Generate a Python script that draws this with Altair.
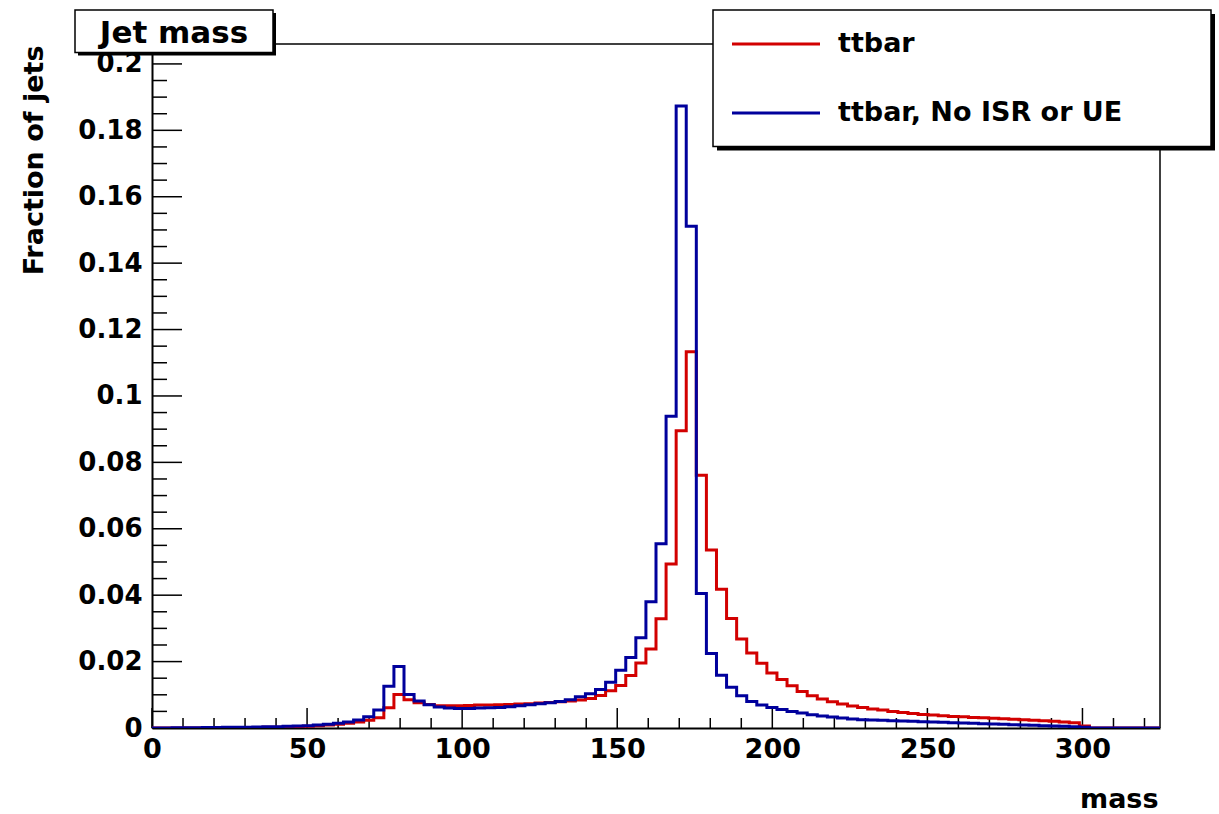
import altair as alt
import pandas as pd
import numpy as np

# ---- data (100 bins of 3.25 from 0 to 325) ----
bin_width = 3.25
x_range = [0, 325]
y_range = [0, 0.206]

ttbar = [
    0, 0, 0, 0, 0, 0.00005, 0.0001, 0.0001, 0.0001, 0.0001,
    0.00015, 0.0002, 0.00025, 0.0003, 0.0004, 0.0005, 0.0007, 0.0009, 0.0011, 0.0014,
    0.0018, 0.0023, 0.0031, 0.0061, 0.0101, 0.0085, 0.0076, 0.0071, 0.0067, 0.0067,
    0.0067, 0.0068, 0.0069, 0.0069, 0.0070, 0.0071, 0.0072, 0.0073, 0.0075, 0.0077,
    0.0079, 0.0081, 0.0084, 0.0089, 0.0098, 0.0112, 0.0128, 0.0158, 0.0196, 0.0238,
    0.0329, 0.0494, 0.0895, 0.1133, 0.0761, 0.0536, 0.0418, 0.0330, 0.0268, 0.0226,
    0.0195, 0.0166, 0.0146, 0.0127, 0.0110, 0.0097, 0.0087, 0.0079, 0.0072, 0.0066,
    0.0062, 0.0057, 0.0054, 0.0050, 0.0047, 0.0044, 0.0041, 0.0039, 0.0037, 0.0035,
    0.0034, 0.0032, 0.0031, 0.0029, 0.0028, 0.0026, 0.0025, 0.0023, 0.0022, 0.0020,
    0.0018, 0.0016, 0.0006, 0, 0, 0, 0, 0, 0, 0,
]

ttbar_no_isr = [
    0, 0, 0.00005, 0.0001, 0.0001, 0.00012, 0.00015, 0.0002, 0.0002, 0.00025,
    0.0003, 0.00035, 0.0004, 0.0005, 0.0006, 0.0007, 0.0009, 0.0011, 0.0014, 0.0018,
    0.0024, 0.0034, 0.0054, 0.0126, 0.0185, 0.0101, 0.0081, 0.0070, 0.0063, 0.0060,
    0.0059, 0.0059, 0.0060, 0.0061, 0.0062, 0.0064, 0.0067, 0.0070, 0.0073, 0.0076,
    0.0080, 0.0085, 0.0094, 0.0103, 0.0116, 0.0138, 0.0174, 0.0212, 0.0272, 0.0380,
    0.0555, 0.0939, 0.1873, 0.1511, 0.0405, 0.0224, 0.0159, 0.0123, 0.0097, 0.0080,
    0.0069, 0.0062, 0.0056, 0.0050, 0.0045, 0.0040, 0.0036, 0.0033, 0.0030, 0.0027,
    0.0025, 0.0024, 0.0023, 0.0022, 0.0021, 0.0020, 0.0019, 0.0018, 0.0017, 0.0016,
    0.0015, 0.0014, 0.0013, 0.0012, 0.0011, 0.0010, 0.0009, 0.0008, 0.0007, 0.0006,
    0.0005, 0.0004, 0.0002, 0, 0, 0, 0, 0, 0, 0,
]

series_names = ["ttbar", "ttbar, No ISR or UE"]
series_colors = ["#d20000", "#00009c"]

x_major = [0, 50, 100, 150, 200, 250, 300]
x_minor = [10, 20, 30, 40, 60, 70, 80, 90, 110, 120, 130, 140, 160, 170, 180, 190,
           210, 220, 230, 240, 260, 270, 280, 290, 310, 320]
y_major = [0, 0.02, 0.04, 0.06, 0.08, 0.1, 0.12, 0.14, 0.16, 0.18, 0.2]
y_minor = [0.005, 0.01, 0.015, 0.025, 0.03, 0.035, 0.045, 0.05, 0.055, 0.065, 0.07, 0.075,
           0.085, 0.09, 0.095, 0.105, 0.11, 0.115, 0.125, 0.13, 0.135, 0.145, 0.15, 0.155,
           0.165, 0.17, 0.175, 0.185, 0.19, 0.195, 0.205]

# ---- build step table ----
rows = []
for name, vals in zip(series_names, [ttbar, ttbar_no_isr]):
    edges = np.arange(len(vals) + 1) * bin_width
    ext = list(vals) + [vals[-1]]
    for e, v in zip(edges, ext):
        rows.append({"mass": float(e), "frac": v, "series": name})
df = pd.DataFrame(rows)

W, H = 1008, 684
FONT = "DejaVu Sans"

xs = alt.Scale(domain=x_range, nice=False, zero=False)
ys = alt.Scale(domain=y_range, nice=False)

lines = alt.Chart(df).mark_line(interpolate="step-after", strokeWidth=3, clip=True).encode(
    x=alt.X("mass:Q", scale=xs,
            axis=alt.Axis(values=x_major, format="d", ticks=False, grid=False,
                          domainColor="black", domainWidth=2,
                          labelFont=FONT, labelFontWeight="bold", labelFontSize=27,
                          labelColor="black", labelPadding=8, labelFlush=False,
                          title="mass", titleFont=FONT, titleFontWeight="bold",
                          titleFontSize=27, titleColor="black",
                          titleX=W - 2, titleY=79, titleAlign="right",
                          titleBaseline="alphabetic", titleAnchor="end")),
    y=alt.Y("frac:Q", scale=ys,
            axis=alt.Axis(values=y_major, format=".2~f", ticks=False, grid=False,
                          domainColor="black", domainWidth=2,
                          labelFont=FONT, labelFontWeight="bold", labelFontSize=26,
                          labelColor="black", labelPadding=10, labelFlush=False,
                          title="Fraction of jets", titleFont=FONT, titleFontWeight="bold",
                          titleFontSize=27, titleColor="black", titleAngle=270,
                          titleX=-118, titleY=1, titleAlign="right",
                          titleBaseline="middle", titleAnchor="end")),
    color=alt.Color("series:N", scale=alt.Scale(domain=series_names, range=series_colors),
                    legend=None),
    order=alt.Order("mass:Q"),
)

one = pd.DataFrame({"a": [0]})

# frame (top and right edges)
frame_top = alt.Chart(one).mark_rule(color="black", strokeWidth=1.5).encode(
    x=alt.value(0), x2=alt.value(W), y=alt.value(0))
frame_right = alt.Chart(one).mark_rule(color="black", strokeWidth=1.5).encode(
    x=alt.value(W), y=alt.value(0), y2=alt.value(H))

# inward ticks
xmaj = alt.Chart(pd.DataFrame({"t": x_major})).mark_rule(color="black", strokeWidth=1.5).encode(
    x=alt.X("t:Q", scale=xs), y=alt.value(H), y2=alt.value(H - 20))
xmin = alt.Chart(pd.DataFrame({"t": x_minor})).mark_rule(color="black", strokeWidth=1.5).encode(
    x=alt.X("t:Q", scale=xs), y=alt.value(H), y2=alt.value(H - 10))
ymaj = alt.Chart(pd.DataFrame({"t": y_major})).mark_rule(color="black", strokeWidth=1.5).encode(
    y=alt.Y("t:Q", scale=ys), x=alt.value(0), x2=alt.value(30))
ymin = alt.Chart(pd.DataFrame({"t": y_minor})).mark_rule(color="black", strokeWidth=1.5).encode(
    y=alt.Y("t:Q", scale=ys), x=alt.value(0), x2=alt.value(15))

# title box
tb = dict(x0=-77, x1=121, y0=-34, y1=8.5)
title_shadow = alt.Chart(one).mark_rect(color="black").encode(
    x=alt.value(tb["x0"] + 3), x2=alt.value(tb["x1"] + 3),
    y=alt.value(tb["y0"] + 3), y2=alt.value(tb["y1"] + 3))
title_box = alt.Chart(one).mark_rect(fill="white", stroke="black", strokeWidth=1.5).encode(
    x=alt.value(tb["x0"]), x2=alt.value(tb["x1"]),
    y=alt.value(tb["y0"]), y2=alt.value(tb["y1"]))
title_text = alt.Chart(one).mark_text(
    text="Jet mass", font=FONT, fontWeight="bold", fontSize=31, color="black",
    align="center", baseline="alphabetic").encode(
    x=alt.value((tb["x0"] + tb["x1"]) / 2), y=alt.value(-1.5))

# legend box
lb = dict(x0=561, x1=1059, y0=-34, y1=102.5)
leg_shadow = alt.Chart(one).mark_rect(color="black").encode(
    x=alt.value(lb["x0"] + 4), x2=alt.value(lb["x1"] + 4),
    y=alt.value(lb["y0"] + 4), y2=alt.value(lb["y1"] + 4))
leg_box = alt.Chart(one).mark_rect(fill="white", stroke="black", strokeWidth=1.5).encode(
    x=alt.value(lb["x0"]), x2=alt.value(lb["x1"]),
    y=alt.value(lb["y0"]), y2=alt.value(lb["y1"]))

leg_layers = []
leg_rows_y = [0, 69]
for name, col, yy in zip(series_names, series_colors, leg_rows_y):
    leg_layers.append(alt.Chart(one).mark_rule(color=col, strokeWidth=3).encode(
        x=alt.value(580), x2=alt.value(668), y=alt.value(yy)))
    leg_layers.append(alt.Chart(one).mark_text(
        text=name, font=FONT, fontWeight="bold", fontSize=27, color="black",
        align="left", baseline="middle").encode(x=alt.value(686), y=alt.value(yy)))

chart = alt.layer(
    frame_top, frame_right, xmin, xmaj, ymin, ymaj, lines,
    title_shadow, title_box, title_text,
    leg_shadow, leg_box, *leg_layers,
).properties(
    width=W, height=H,
    padding={"left": 152, "top": 44, "right": 59, "bottom": 86},
    autosize=alt.AutoSizeParams(type="none"),
    background="white",
).configure_view(stroke=None)

chart.save("out.html", embed_options={"renderer": "svg", "actions": False})
